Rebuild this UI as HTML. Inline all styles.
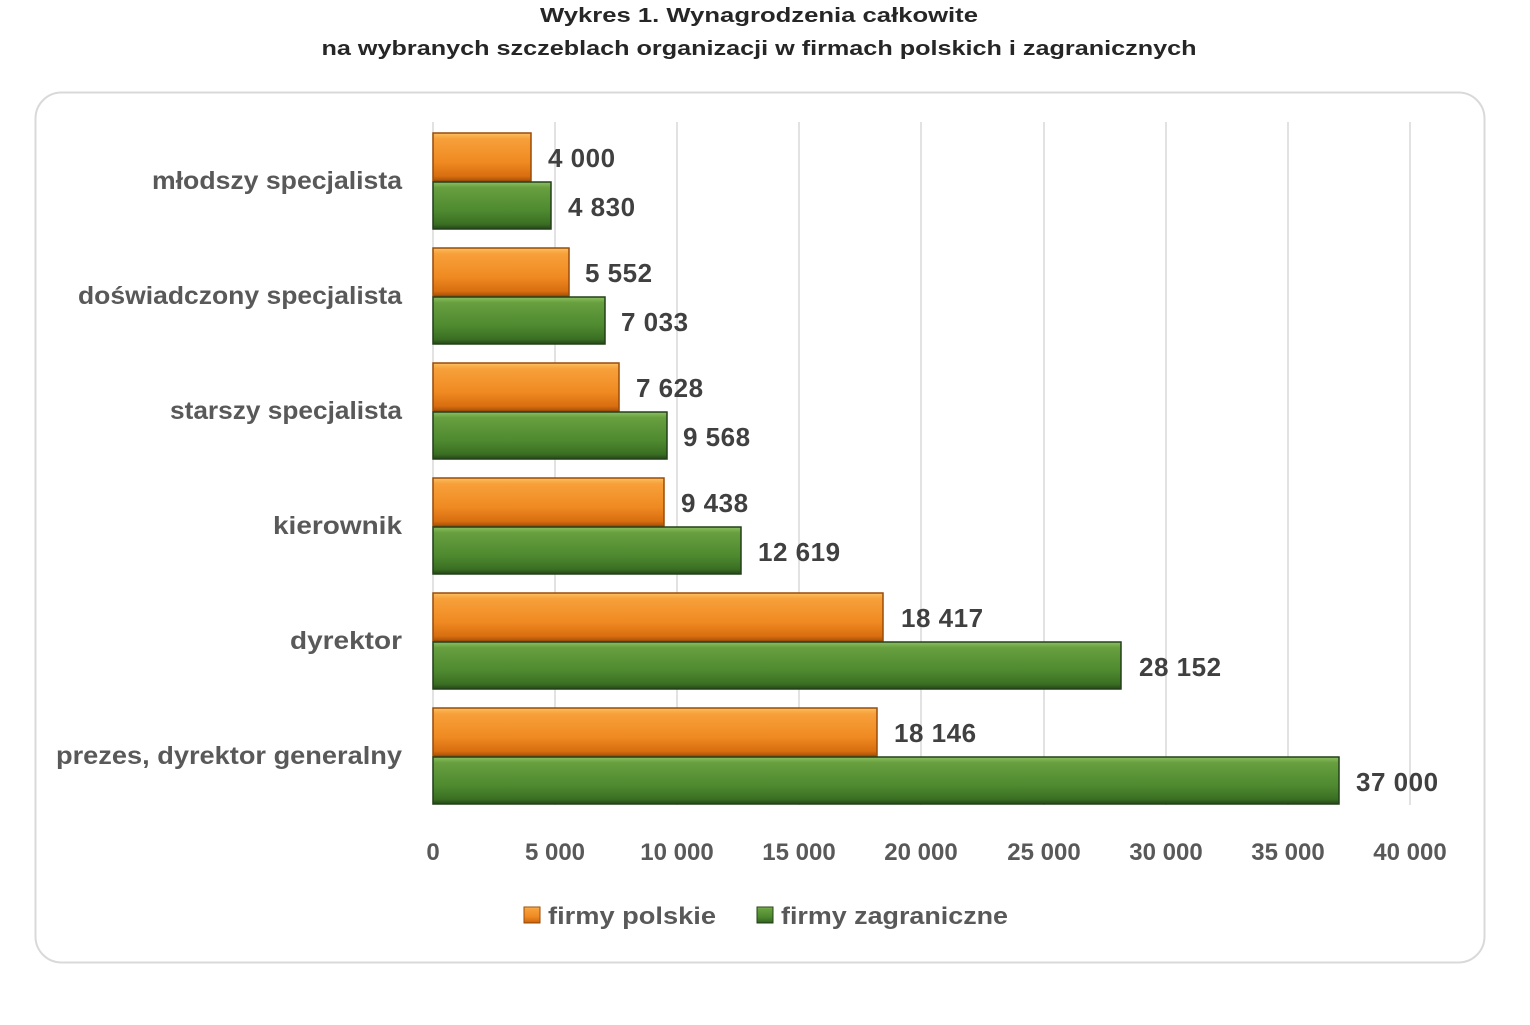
<!DOCTYPE html>
<html><head><meta charset="utf-8"><style>html,body{margin:0;padding:0;background:#fff}svg{display:block}</style></head>
<body>
<svg width="1530" height="1025" viewBox="0 0 1530 1025" xmlns="http://www.w3.org/2000/svg" font-family="Liberation Sans, sans-serif">
<defs>
<linearGradient id="go" x1="0" y1="0" x2="0" y2="1">
<stop offset="0" stop-color="#fbc060"/><stop offset="0.12" stop-color="#f7a03a"/><stop offset="0.6" stop-color="#f08a22"/><stop offset="0.9" stop-color="#d86e10"/><stop offset="1" stop-color="#a85208"/></linearGradient>
<linearGradient id="gg" x1="0" y1="0" x2="0" y2="1">
<stop offset="0" stop-color="#8cc060"/><stop offset="0.12" stop-color="#68a040"/><stop offset="0.6" stop-color="#4f8a30"/><stop offset="0.9" stop-color="#3a6e22"/><stop offset="1" stop-color="#24461a"/></linearGradient>
</defs>
<text x="759" y="22" text-anchor="middle" font-size="20" font-weight="bold" fill="#262626" textLength="438" lengthAdjust="spacingAndGlyphs">Wykres 1. Wynagrodzenia całkowite</text>
<text x="759" y="55" text-anchor="middle" font-size="20" font-weight="bold" fill="#262626" textLength="875" lengthAdjust="spacingAndGlyphs">na wybranych szczeblach organizacji w firmach polskich i zagranicznych</text>
<rect x="35.5" y="92.5" width="1449" height="870" rx="26" fill="#fff" stroke="#d9d9d9" stroke-width="2"/>
<g stroke="#d9d9d9" stroke-width="1.5">
<line x1="555" y1="122" x2="555" y2="805"/><line x1="677" y1="122" x2="677" y2="805"/><line x1="799" y1="122" x2="799" y2="805"/><line x1="921" y1="122" x2="921" y2="805"/><line x1="1044" y1="122" x2="1044" y2="805"/><line x1="1166" y1="122" x2="1166" y2="805"/><line x1="1288" y1="122" x2="1288" y2="805"/><line x1="1410" y1="122" x2="1410" y2="805"/>
<line x1="433" y1="122" x2="433" y2="805"/>
</g>
<g stroke-width="1.5">
<rect x="433" y="133" width="98" height="48" fill="url(#go)" stroke="#9a4c08"/>
<rect x="433" y="182" width="118" height="47" fill="url(#gg)" stroke="#24401a"/>
<rect x="433" y="248" width="136" height="48" fill="url(#go)" stroke="#9a4c08"/>
<rect x="433" y="297" width="172" height="47" fill="url(#gg)" stroke="#24401a"/>
<rect x="433" y="363" width="186" height="48" fill="url(#go)" stroke="#9a4c08"/>
<rect x="433" y="412" width="234" height="47" fill="url(#gg)" stroke="#24401a"/>
<rect x="433" y="478" width="231" height="48" fill="url(#go)" stroke="#9a4c08"/>
<rect x="433" y="527" width="308" height="47" fill="url(#gg)" stroke="#24401a"/>
<rect x="433" y="593" width="450" height="48" fill="url(#go)" stroke="#9a4c08"/>
<rect x="433" y="642" width="688" height="47" fill="url(#gg)" stroke="#24401a"/>
<rect x="433" y="708" width="444" height="48" fill="url(#go)" stroke="#9a4c08"/>
<rect x="433" y="757" width="906" height="47" fill="url(#gg)" stroke="#24401a"/>
</g>
<g font-size="25" fill="#595959" font-weight="bold" text-anchor="end">
<text x="402" y="189" textLength="250" lengthAdjust="spacingAndGlyphs">młodszy specjalista</text>
<text x="402" y="304" textLength="324" lengthAdjust="spacingAndGlyphs">doświadczony specjalista</text>
<text x="402" y="419" textLength="232" lengthAdjust="spacingAndGlyphs">starszy specjalista</text>
<text x="402" y="534" textLength="129" lengthAdjust="spacingAndGlyphs">kierownik</text>
<text x="402" y="649" textLength="112" lengthAdjust="spacingAndGlyphs">dyrektor</text>
<text x="402" y="764" textLength="346" lengthAdjust="spacingAndGlyphs">prezes, dyrektor generalny</text>
</g>
<g font-size="26" fill="#404040" font-weight="bold" letter-spacing="0.5">
<text x="548" y="167">4 000</text><text x="568" y="216">4 830</text>
<text x="585" y="282">5 552</text><text x="621" y="331">7 033</text>
<text x="636" y="397">7 628</text><text x="683" y="446">9 568</text>
<text x="681" y="512">9 438</text><text x="758" y="561">12 619</text>
<text x="901" y="627">18 417</text><text x="1139" y="676">28 152</text>
<text x="894" y="742">18 146</text><text x="1356" y="791">37 000</text>
</g>
<g font-size="24" fill="#595959" font-weight="bold" text-anchor="middle">
<text x="433" y="860">0</text><text x="555" y="860">5 000</text><text x="677" y="860">10 000</text><text x="799" y="860">15 000</text><text x="921" y="860">20 000</text><text x="1044" y="860">25 000</text><text x="1166" y="860">30 000</text><text x="1288" y="860">35 000</text><text x="1410" y="860">40 000</text>
</g>
<rect x="524" y="907" width="16" height="16" fill="url(#go)" stroke="#9a4c08"/>
<text x="548" y="924" font-size="24" fill="#595959" font-weight="bold" textLength="168" lengthAdjust="spacingAndGlyphs">firmy polskie</text>
<rect x="757" y="907" width="16" height="16" fill="url(#gg)" stroke="#24401a"/>
<text x="781" y="924" font-size="24" fill="#595959" font-weight="bold" textLength="227" lengthAdjust="spacingAndGlyphs">firmy zagraniczne</text>
</svg>
</body></html>
